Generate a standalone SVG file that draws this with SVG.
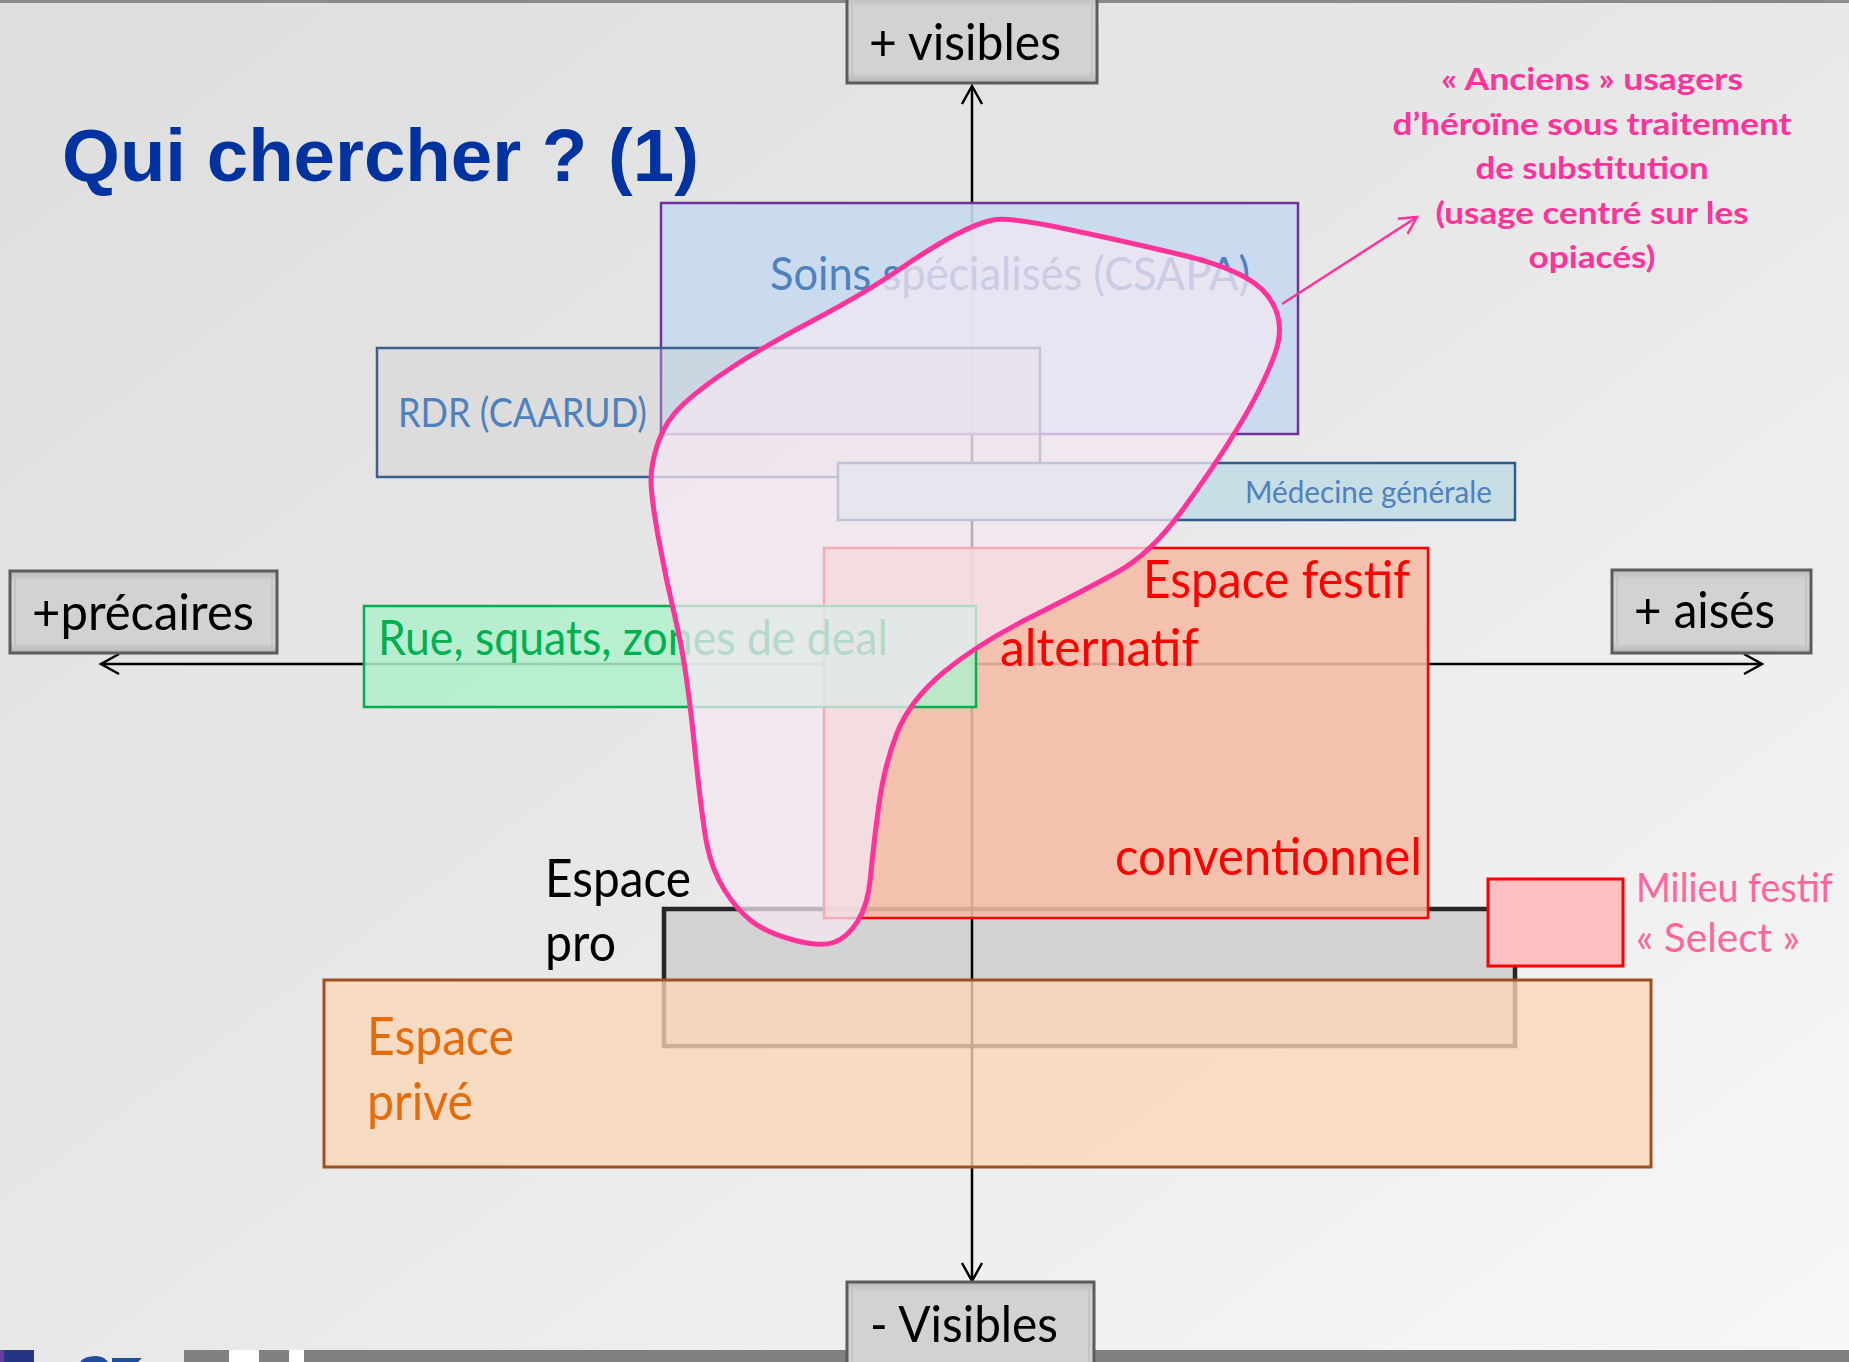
<svg xmlns="http://www.w3.org/2000/svg" width="1849" height="1362" viewBox="0 0 1849 1362">
<defs>
<linearGradient id="bg" x1="0" y1="0" x2="1" y2="1"><stop offset="0" stop-color="#dedede"/><stop offset="0.5" stop-color="#e8e8e8"/><stop offset="1" stop-color="#f7f7f7"/></linearGradient>
<linearGradient id="btn" x1="0" y1="0" x2="0" y2="1"><stop offset="0" stop-color="#b9b9b9"/><stop offset="0.12" stop-color="#d2d2d2"/><stop offset="0.88" stop-color="#d2d2d2"/><stop offset="1" stop-color="#b4b4b4"/></linearGradient>
<marker id="arr" markerUnits="userSpaceOnUse" markerWidth="24" markerHeight="24" viewBox="0 0 24 24" refX="21" refY="12" orient="auto-start-reverse"><path d="M3,2 L21,12 L3,22" fill="none" stroke="#000" stroke-width="2.5"/></marker>
<marker id="parr" markerUnits="userSpaceOnUse" markerWidth="24" markerHeight="24" viewBox="0 0 24 24" refX="21" refY="12" orient="auto"><path d="M4,3 L21,12 L4,21" fill="none" stroke="#ff3399" stroke-width="2.5"/></marker>
</defs>
<style>
.f{font-family:Lato,"Open Sans","Noto Sans",sans-serif}
.axbox{fill:url(#btn);stroke:#5c5c5c;stroke-width:3}
.axin{fill:none;stroke:#c4c4c4;stroke-width:2}
.axt{font-size:50px;fill:#000}
.blue{fill:#4f81bd}
.red{fill:#ff0000;font-size:52px}
.pk{fill:#ff3399;font-size:30px;font-weight:bold}
</style>
<rect x="0" y="0" width="1849" height="1362" fill="url(#bg)"/>
<rect x="0" y="0" width="1849" height="3" fill="#8a8a8a"/>
<g id="footer">
<rect x="0" y="1350" width="34" height="12" fill="#253585"/>
<rect x="0" y="1350" width="4" height="12" fill="#6a3d9a"/>
<path d="M80,1362 Q84,1356 96,1356 Q104,1356 108,1362 Z M112,1362 L112,1358 L142,1358 L138,1362 Z" fill="#1f4e9c"/>
<rect x="184" y="1350" width="45" height="12" fill="#808080"/>
<rect x="229" y="1350" width="30" height="12" fill="#ffffff"/>
<rect x="259" y="1350" width="30" height="12" fill="#808080"/>
<rect x="289" y="1350" width="15" height="12" fill="#ffffff"/>
<rect x="304" y="1350" width="1545" height="12" fill="#808080"/>
</g>
<g id="espace-pro">
<rect x="664" y="909" width="851" height="137" fill="#d3d3d3" stroke="#262626" stroke-width="4.5"/>
</g>
<g id="connectors">
<line x1="972" y1="1281" x2="972" y2="86" stroke="#000" stroke-width="2.5" marker-start="url(#arr)" marker-end="url(#arr)"/>
<line x1="101" y1="664" x2="1762" y2="664" stroke="#000" stroke-width="2.5" marker-start="url(#arr)" marker-end="url(#arr)"/>
</g>
<g id="soins">
<rect x="661" y="203" width="637" height="231" fill="#c6d9f0" fill-opacity="0.9" stroke="#7030a0" stroke-width="2.5"/>
<text class="f blue" x="770" y="290" font-size="47" textLength="480" lengthAdjust="spacingAndGlyphs">Soins spécialisés (CSAPA)</text>
</g>
<g id="rdr">
<rect x="377" y="348" width="663" height="129" fill="#cfcfcf" fill-opacity="0.35" stroke="#3a5f8f" stroke-width="2.5"/>
<text class="f blue" x="398" y="427" font-size="41" textLength="249" lengthAdjust="spacingAndGlyphs">RDR (CAARUD)</text>
</g>
<g id="medecine">
<rect x="838" y="463" width="677" height="57" fill="#c8dee6" stroke="#2f5d8a" stroke-width="2.5"/>
<text class="f blue" x="1245" y="503" font-size="30" textLength="247" lengthAdjust="spacingAndGlyphs">Médecine générale</text>
</g>
<g id="espace-festif">
<rect x="824" y="548" width="604" height="370" fill="#f6bba6" fill-opacity="0.88" stroke="#ff0000" stroke-width="2.5"/>
<text class="f red" x="1143" y="598" textLength="267" lengthAdjust="spacingAndGlyphs">Espace festif</text>
<text class="f red" x="1000" y="666" textLength="199" lengthAdjust="spacingAndGlyphs">alternatif</text>
<text class="f red" x="1115" y="875" textLength="307" lengthAdjust="spacingAndGlyphs">conventionnel</text>
</g>
<g id="rue">
<rect x="364" y="606" width="612" height="101" fill="#b0f0cc" fill-opacity="0.85" stroke="#00b050" stroke-width="2.5"/>
<text class="f" x="378" y="655" font-size="48" fill="#00b050" textLength="510" lengthAdjust="spacingAndGlyphs">Rue, squats, zones de deal</text>
</g>
<g id="espace-prive">
<rect x="324" y="980" width="1327" height="187" fill="#fad6b7" fill-opacity="0.78" stroke="#a0501e" stroke-width="3"/>
<text class="f" x="367" y="1055" font-size="52" fill="#e46c0a" textLength="147" lengthAdjust="spacingAndGlyphs">Espace</text>
<text class="f" x="367" y="1120" font-size="52" fill="#e46c0a" textLength="106" lengthAdjust="spacingAndGlyphs">privé</text>
</g>
<g id="milieu-select">
<rect x="1488" y="879" width="135" height="87" fill="#ffc0c4" stroke="#ff0000" stroke-width="3"/>
<text class="f" x="1636" y="902" font-size="41" fill="#ff6699" textLength="197" lengthAdjust="spacingAndGlyphs">Milieu festif</text>
<text class="f" x="1636" y="952" font-size="41" fill="#ff6699" textLength="164" lengthAdjust="spacingAndGlyphs">« Select »</text>
</g>
<g id="anciens-usagers">
<path d="M993,220 Q1008,217 1059,227.5 Q1110,238 1178,254 Q1248,270 1267,295 Q1287,320 1275,353.5 Q1263,387 1237.5,428.5 Q1212,470 1181,512 Q1150,554 1117.5,572 Q1085,590 1032,616.5 Q979,643 944.5,671.5 Q910,700 897,733 Q884,766 878.5,807.5 Q873,849 870.5,877 Q868,905 857.5,921.5 Q847,938 833.5,942.5 Q820,947 793.5,940 Q767,933 752,921.5 Q737,910 724.5,890 Q712,870 707,845 Q702,820 694,741.5 Q686,663 676,621.5 Q666,580 658.5,538.5 Q651,497 651,480 Q651,463 658.5,441.5 Q666,420 684,403.5 Q702,387 732.5,367 Q763,347 814,320 Q865,293 898.5,270 Q932,247 955,235 Q978,223 993,220 Z" fill="#f3e7f2" fill-opacity="0.74" stroke="#ff3399" stroke-width="5"/>
</g>
<g id="connector-anciens">
<line x1="1282" y1="304" x2="1417" y2="217" stroke="#ff3399" stroke-width="2.5" marker-end="url(#parr)"/>
</g>
<g id="label-anciens">
<text class="f pk" x="1592" y="90" text-anchor="middle" textLength="302" lengthAdjust="spacingAndGlyphs">« Anciens » usagers</text>
<text class="f pk" x="1592" y="135" text-anchor="middle" textLength="399" lengthAdjust="spacingAndGlyphs">d’héroïne sous traitement</text>
<text class="f pk" x="1592" y="179" text-anchor="middle" textLength="233" lengthAdjust="spacingAndGlyphs">de substitution</text>
<text class="f pk" x="1592" y="224" text-anchor="middle" textLength="313" lengthAdjust="spacingAndGlyphs">(usage centré sur les</text>
<text class="f pk" x="1592" y="268" text-anchor="middle" textLength="127" lengthAdjust="spacingAndGlyphs">opiacés)</text>
</g>
<g id="label-espace-pro">
<text class="f" x="545" y="897" font-size="52" fill="#000" textLength="146" lengthAdjust="spacingAndGlyphs">Espace</text>
<text class="f" x="545" y="961" font-size="52" fill="#000" textLength="71" lengthAdjust="spacingAndGlyphs">pro</text>
</g>
<g id="title">
<text x="62" y="181" font-family="'Liberation Sans',Arial,sans-serif" font-weight="bold" font-size="75" fill="#0033a0" textLength="637" lengthAdjust="spacingAndGlyphs">Qui chercher ? (1)</text>
</g>
<g id="plus-visibles">
<rect class="axbox" x="847" y="-4" width="250" height="87"/>
<rect class="axin" x="852" y="1" width="240" height="77"/>
<text class="f axt" x="869" y="60" textLength="192" lengthAdjust="spacingAndGlyphs">+ visibles</text>
</g>
<g id="plus-precaires">
<rect class="axbox" x="10" y="571" width="267" height="82"/>
<rect class="axin" x="15" y="576" width="257" height="72"/>
<text class="f axt" x="32" y="630" textLength="222" lengthAdjust="spacingAndGlyphs">+précaires</text>
</g>
<g id="plus-aises">
<rect class="axbox" x="1612" y="570" width="199" height="83"/>
<rect class="axin" x="1617" y="575" width="189" height="73"/>
<text class="f axt" x="1634" y="628" textLength="141" lengthAdjust="spacingAndGlyphs">+ aisés</text>
</g>
<g id="moins-visibles">
<rect class="axbox" x="847" y="1282" width="247" height="90"/>
<rect class="axin" x="852" y="1287" width="237" height="80"/>
<text class="f axt" x="870" y="1342" textLength="188" lengthAdjust="spacingAndGlyphs">- Visibles</text>
</g>
</svg>
